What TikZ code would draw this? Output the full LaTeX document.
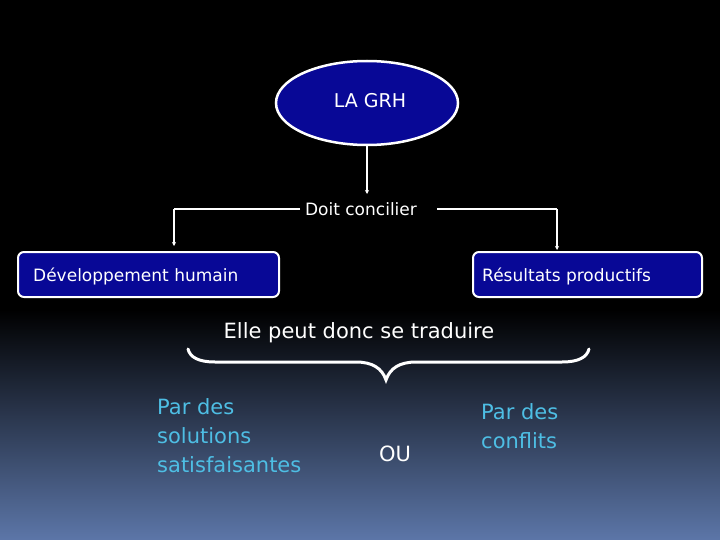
\documentclass[tikz,border=0pt]{standalone}
\usepackage{fontspec}
\setmainfont{DejaVu Sans}
\usetikzlibrary{shapes.geometric,arrows.meta}
\definecolor{navy}{RGB}{8,8,150}
\definecolor{lightcyan}{RGB}{78,190,228}
\definecolor{bottomblue}{RGB}{92,118,168}
\tikzset{
  wire/.style={white,line width=1.3pt},
  arr/.style={wire,-{Stealth[length=4pt,width=4pt]}},
  bluebox/.style={draw=white,line width=2pt,fill=navy,rounded corners=6pt,minimum height=45pt,inner sep=0pt},
  txt/.style={text=white,inner sep=0pt,font=\fontsize{17}{20}\selectfont},
  cyantxt/.style={text=lightcyan,inner sep=0pt,align=left,font=\fontsize{21}{29}\selectfont},
}
\begin{document}
\begin{tikzpicture}[x=1pt,y=-1pt]
\useasboundingbox (0,0) rectangle (720,540);
\fill[black] (0,0) rectangle (720,310);
\shade[top color=black,bottom color=bottomblue] (0,309.5) rectangle (720,540);
% ellipse
\node[ellipse,draw=white,line width=2.5pt,fill=navy,minimum width=182pt,minimum height=84pt,inner sep=0pt] (grh) at (367,103) {};
\node[txt,font=\fontsize{19}{22}\selectfont] (grht) at (370,101) {LA GRH};
% doit concilier
\node[txt,anchor=base] (doit) at (361,215) {Doit concilier};
\coordinate (dtop) at (367,194);
\draw[arr] (grh.south) -- (dtop);
% boxes
\node[bluebox,minimum width=261pt] (dev) at (148.5,274.5) {};
\node[txt,anchor=base west] (devt) at (33,281) {Développement humain};
\node[bluebox,minimum width=229pt] (res) at (587.5,274.5) {};
\node[txt,anchor=base west] (rest) at (482,281) {Résultats productifs};
\coordinate (dl) at (300,209);
\coordinate (dr) at (437,209);
\coordinate (lc) at (174,209);
\coordinate (rc) at (557,209);
\coordinate (la) at (174,246);
\coordinate (ra) at (557,250);
\draw[wire] (dl) -- (lc);
\draw[arr] (lc) -- (la);
\draw[wire] (dr) -- (rc);
\draw[arr] (rc) -- (ra);
% elle peut
\node[txt,anchor=base,font=\fontsize{21}{24}\selectfont] (elle) at (359,338) {Elle peut donc se traduire};
% brace
\coordinate (bl) at (188,349);
\coordinate (br) at (589,349);
\coordinate (bt) at (386,380);
\draw[white,line width=3pt,line cap=round]
  (bl) .. controls (190,357) and (198,362) .. (215,362)
  -- (356,362) .. controls (372,362) and (382,368) .. (bt)
  .. controls (390,368) and (400,362) .. (416,362)
  -- (562,362) .. controls (579,362) and (587,357) .. (br);
% bottom texts
\node[cyantxt,anchor=north west] (left) at (157,398) {Par des\\solutions\\satisfaisantes};
\node[txt,font=\fontsize{21}{24}\selectfont] (ou) at (395,454) {OU};
\node[cyantxt,anchor=north west] (right) at (481,403) {Par des\\conflits};
\end{tikzpicture}
\end{document}
